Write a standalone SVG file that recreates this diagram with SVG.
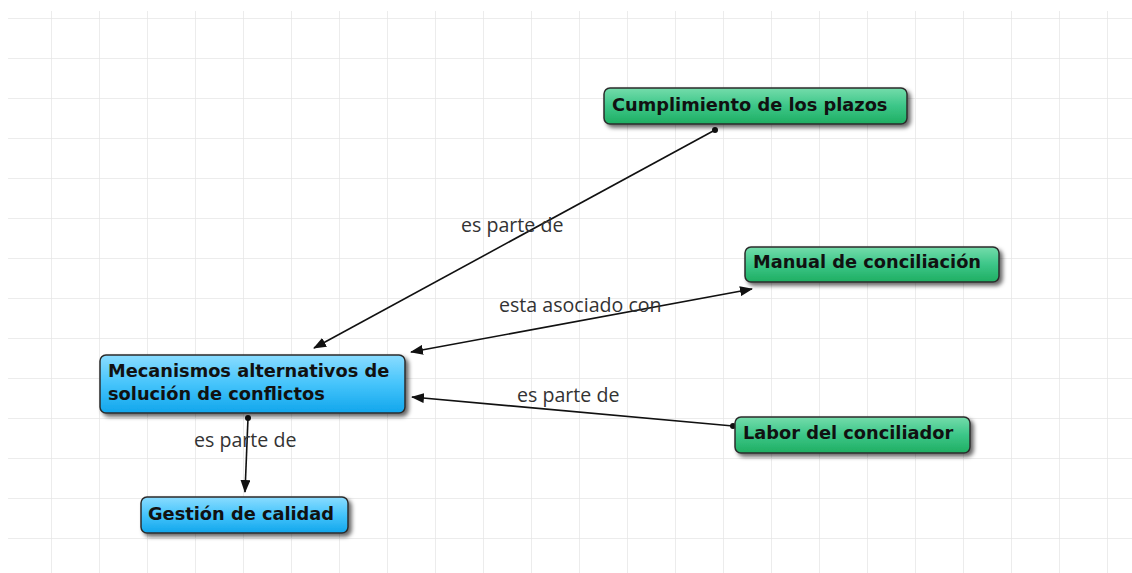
<svg xmlns="http://www.w3.org/2000/svg" width="1132" height="573" viewBox="0 0 1132 573">
<defs>
<pattern id="grid" x="4" y="18" width="48" height="40" patternUnits="userSpaceOnUse">
<path d="M48 0V40M0 0H48" fill="none" stroke="#e6e6e6" stroke-width="1.5"/>
</pattern>
<linearGradient id="gGreen" x1="0" y1="0" x2="0" y2="1">
<stop offset="0" stop-color="#74dcab"/>
<stop offset="0.5" stop-color="#3cc688"/>
<stop offset="1" stop-color="#1fae62"/>
</linearGradient>
<linearGradient id="gBlue" x1="0" y1="0" x2="0" y2="1">
<stop offset="0" stop-color="#8adcff"/>
<stop offset="0.5" stop-color="#45c4fb"/>
<stop offset="1" stop-color="#12a6ec"/>
</linearGradient>
<filter id="shadow" x="-10%" y="-30%" width="125%" height="180%">
<feDropShadow dx="3" dy="3" stdDeviation="2" flood-color="#000" flood-opacity="0.6"/>
</filter>
<marker id="arrow" viewBox="0 0 13 10" refX="12" refY="5" markerWidth="13" markerHeight="10" markerUnits="userSpaceOnUse" orient="auto-start-reverse">
<path d="M0 0L13 5L0 10z" fill="#111"/>
</marker>
<marker id="dot" viewBox="0 0 6 6" refX="3" refY="3" markerWidth="6" markerHeight="6" markerUnits="userSpaceOnUse">
<circle cx="3" cy="3" r="3" fill="#111"/>
</marker>
</defs>
<style>
.node{stroke:#2b2b2b;stroke-width:1.5;filter:url(#shadow)}
.green{fill:url(#gGreen)}
.blue{fill:url(#gBlue)}
.nt{font-family:"DejaVu Sans",Verdana,sans-serif;font-weight:bold;font-size:17.8px;fill:#111}
.conn{stroke:#111;stroke-width:1.6;fill:none}
.lbl{font-family:"Open Sans","Noto Sans",sans-serif;font-size:19.6px;fill:#333}
</style>
<rect x="8" y="11" width="1124" height="562" fill="url(#grid)"/>
<g id="connectors">
<line class="conn" x1="715" y1="130" x2="314" y2="348" marker-start="url(#dot)" marker-end="url(#arrow)"/>
<line class="conn" x1="752" y1="289" x2="411" y2="352" marker-start="url(#arrow)" marker-end="url(#arrow)"/>
<line class="conn" x1="733" y1="426" x2="412" y2="397" marker-start="url(#dot)" marker-end="url(#arrow)"/>
<line class="conn" x1="248" y1="418" x2="245" y2="492" marker-start="url(#dot)" marker-end="url(#arrow)"/>
<text class="lbl" x="461" y="232">es parte de</text>
<text class="lbl" x="499" y="312">esta asociado con</text>
<text class="lbl" x="517" y="402">es parte de</text>
<text class="lbl" x="194" y="447">es parte de</text>
</g>
<g id="n-cumplimiento">
<rect class="node green" x="604" y="88" width="303" height="36" rx="6"/>
<text class="nt" x="612" y="111">Cumplimiento de los plazos</text>
</g>
<g id="n-manual">
<rect class="node green" x="745" y="247" width="254" height="35" rx="6"/>
<text class="nt" x="753" y="268">Manual de conciliación</text>
</g>
<g id="n-mecanismos">
<rect class="node blue" x="100" y="355" width="305" height="58" rx="6"/>
<text class="nt" x="108" y="377">Mecanismos alternativos de</text>
<text class="nt" x="108" y="400">solución de conflictos</text>
</g>
<g id="n-labor">
<rect class="node green" x="735" y="417" width="235" height="36" rx="6"/>
<text class="nt" x="743" y="439">Labor del conciliador</text>
</g>
<g id="n-gestion">
<rect class="node blue" x="141" y="497" width="207" height="36" rx="6"/>
<text class="nt" x="148" y="520">Gestión de calidad</text>
</g>
</svg>
